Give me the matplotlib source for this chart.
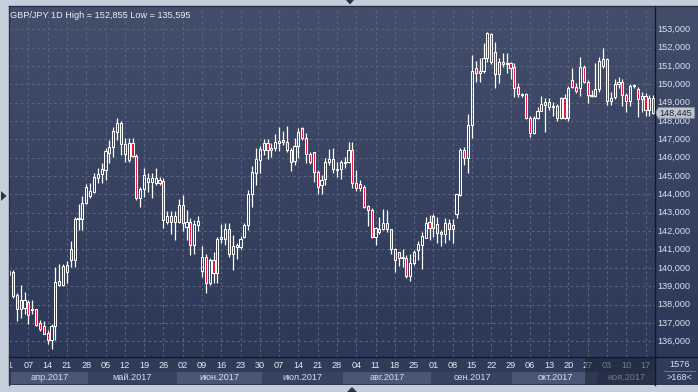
import matplotlib
matplotlib.use('Agg')
import matplotlib.pyplot as plt
import numpy as np
import pandas as pd
from matplotlib.patches import Rectangle, Polygon
from matplotlib.collections import LineCollection
from matplotlib.colors import LinearSegmentedColormap
from matplotlib.lines import Line2D

# ---------------- data ----------------
symbol_title = "GBP/JPY 1D High = 152,855 Low = 135,595"
start_date = "2017-03-31"
month_names = ['мар.2017', 'апр.2017', 'май.2017', 'июн.2017', 'июл.2017',
               'авг.2017', 'сен.2017', 'окт.2017', 'ноя.2017']
price_ticks = list(range(136, 154))
last_price = 148.445
corner_top = "1576"
corner_bottom = ">168<"

opens = [
139.60,139.75,138.51,137.75,137.80,138.15,137.70,137.73,137.00,136.82,
136.45,136.05,136.82,139.27,139.05,140.18,141.00,140.45,142.65,142.65,
143.56,143.90,144.15,144.87,145.09,145.33,146.27,146.56,147.42,147.91,
146.73,145.87,146.78,146.11,143.78,144.27,144.70,144.70,144.65,144.78,
144.73,142.50,142.85,142.51,142.51,143.45,142.20,142.51,141.27,142.33,
139.84,140.60,139.20,140.42,139.73,141.55,141.56,142.11,140.78,141.15,
141.15,141.69,142.33,144.02,145.18,145.87,146.42,146.78,146.42,146.51,
146.78,146.87,146.87,146.42,145.82,146.64,147.60,147.05,146.18,146.29,
145.20,144.51,144.82,145.78,145.91,145.35,145.38,145.69,145.75,146.42,
144.60,144.55,144.38,143.36,143.15,141.69,141.96,142.11,142.42,142.11,
141.00,140.84,140.56,140.51,139.56,140.24,140.96,141.27,141.65,142.51,
142.18,142.38,141.93,141.82,142.47,142.09,142.96,143.96,146.42,146.00,
147.78,150.87,150.60,150.73,151.45,152.75,151.75,150.55,151.22,151.10,
151.15,150.95,149.84,149.42,149.50,148.15,147.33,148.15,148.56,148.87,
149.02,148.75,148.82,148.15,149.24,148.15,150.24,149.84,149.78,150.96,
150.15,149.36,149.38,149.73,151.00,151.36,149.11,149.33,150.00,150.15,
149.42,149.11,149.91,149.73,149.18,149.38,148.60,149.27]

highs = [
139.95,139.87,138.64,139.05,138.69,138.27,138.27,137.78,137.15,137.11,
136.60,136.96,140.05,140.20,140.20,140.37,141.47,142.75,143.50,143.91,
144.56,144.64,145.18,145.42,145.69,146.51,146.96,147.69,148.15,148.02,
147.05,147.05,147.05,146.18,144.42,145.42,145.15,145.15,145.42,144.96,
144.87,143.10,143.09,143.09,143.73,143.96,143.15,142.69,142.60,142.82,
141.20,140.75,140.51,140.87,141.69,142.38,142.45,142.42,141.78,141.33,
141.73,142.42,144.24,145.56,146.54,146.64,147.00,147.00,146.78,147.27,
147.69,147.45,147.73,146.51,147.05,147.60,147.69,147.33,146.33,146.33,
145.33,145.05,145.96,146.45,146.55,145.78,145.87,146.05,146.84,146.87,
145.33,144.78,144.51,143.42,143.24,142.24,142.75,143.20,143.15,142.11,
141.09,140.87,141.05,140.69,140.78,140.96,141.45,141.96,142.78,142.87,
142.96,142.78,142.05,142.73,142.65,142.65,144.05,146.55,146.60,148.36,
151.60,151.27,151.45,152.24,152.855,152.80,152.30,151.42,151.70,151.70,
151.20,151.15,150.05,149.55,149.55,148.25,148.30,148.75,149.36,149.25,
149.25,149.05,148.95,149.30,149.50,149.90,150.87,150.05,151.50,151.05,
150.24,149.70,151.15,151.50,152.00,151.45,149.60,150.27,150.40,150.27,
149.55,150.00,150.00,149.85,149.60,149.55,149.40,149.40]

lows = [
139.50,138.33,137.09,137.29,137.50,136.96,137.47,136.82,136.56,136.38,
135.87,135.595,136.09,139.00,139.00,139.20,140.05,140.05,142.05,142.05,
143.47,143.78,144.09,144.60,144.65,144.78,145.69,146.05,146.96,146.15,
145.78,145.78,146.05,143.69,143.33,143.87,144.15,143.78,144.50,144.50,
142.15,142.40,141.82,141.51,142.42,142.02,141.51,140.69,140.73,142.00,
139.51,138.64,139.05,139.15,139.15,141.33,141.27,140.60,139.87,140.47,
141.00,141.60,142.05,143.29,144.51,145.15,146.15,145.91,146.05,146.38,
146.38,146.69,146.33,145.29,145.60,146.00,146.96,145.69,145.64,144.69,
144.05,144.05,144.51,145.60,145.15,144.96,144.82,145.42,145.69,144.36,
144.20,144.20,143.24,142.29,141.60,141.27,141.87,142.05,141.96,140.78,
139.78,140.11,140.05,139.42,139.29,140.15,140.42,139.96,141.60,141.51,
141.69,141.38,141.20,141.33,141.51,141.36,142.69,143.93,145.60,145.18,
147.05,150.15,150.15,150.60,151.24,151.11,149.80,150.10,150.96,150.60,
150.30,149.30,149.30,149.30,148.10,147.15,147.30,148.10,148.55,147.40,
148.60,148.25,148.00,148.10,148.10,148.00,149.78,149.55,149.36,150.05,
148.96,149.33,149.33,149.60,150.90,148.85,148.85,149.20,149.80,148.80,
148.50,148.80,149.80,148.20,148.50,148.30,148.30,148.40]

closes = [
139.82,138.47,137.75,138.24,138.24,137.42,137.75,136.91,136.69,136.42,
136.05,136.82,139.24,139.09,140.11,139.76,140.45,142.65,142.73,143.56,
144.42,144.18,144.93,145.11,145.36,146.36,146.60,147.47,147.87,146.75,
146.18,146.78,146.11,143.78,144.27,145.05,144.87,144.87,144.87,144.64,
142.60,142.85,142.51,142.82,143.45,142.42,142.51,141.27,142.38,142.55,
140.60,139.20,140.42,139.73,141.56,141.69,142.11,140.78,141.18,141.24,
141.56,142.33,144.02,145.20,145.91,146.45,146.78,146.42,146.51,146.87,
146.91,146.96,146.42,145.78,146.64,147.38,147.05,146.18,145.78,145.20,
144.42,144.78,145.75,145.91,145.38,145.40,145.75,145.78,146.42,144.60,
144.33,144.36,143.33,143.15,141.69,142.15,142.11,142.42,142.11,141.00,
140.45,140.56,140.60,139.56,140.29,140.87,141.29,141.75,142.47,142.18,
142.84,141.91,141.82,142.47,142.09,142.36,144.00,146.42,146.00,147.78,
150.73,150.60,150.73,151.45,152.78,151.20,150.55,151.20,151.12,151.15,
150.90,149.78,149.50,149.50,148.15,147.33,148.15,148.56,148.91,149.02,
148.75,148.82,148.15,149.24,148.15,149.78,149.84,149.65,150.96,150.15,
149.42,149.42,149.73,151.29,151.36,149.11,149.27,150.00,150.15,149.42,
149.11,149.91,149.93,149.18,149.38,148.60,149.24,148.445]

n = len(opens)
assert len(highs) == n and len(lows) == n and len(closes) == n, (len(opens), len(highs), len(lows), len(closes))
dates = pd.bdate_range(start_date, periods=n)

# ---------------- figure ----------------
W, H = 698, 392
fig = plt.figure(figsize=(W / 100, H / 100), dpi=100)
fig.patch.set_facecolor('#c5cfdb')
plt.rcParams['font.family'] = ['Liberation Sans', 'DejaVu Sans']
FS = 6.6

def px_axes(x0, y0, x1, y1):
    return fig.add_axes([x0 / W, 1 - y1 / H, (x1 - x0) / W, (y1 - y0) / H])

bg_cmap = LinearSegmentedColormap.from_list('bg', ['#424e6a', '#2c3857'])
grad = np.linspace(0, 1, 256).reshape(-1, 1)

XL = (-0.15, 167.45)
YL = (135.14, 154.27)

# main chart
ax = px_axes(8.5, 6, 655, 357)
ax.set_xlim(*XL)
ax.set_ylim(*YL)
ax.imshow(grad, cmap=bg_cmap, extent=[0, 1, 0, 1], transform=ax.transAxes,
          aspect='auto', zorder=0)
ax.set_xlim(*XL)
ax.set_ylim(*YL)
for s in ax.spines.values():
    s.set_visible(False)
ax.set_xticks([])
ax.set_yticks([])

grid_kw = dict(color='#58647f', lw=0.8, dashes=(2.5, 2.5), zorder=1)
for p in price_ticks:
    ax.axhline(p, **grid_kw)
fridays = [i for i, d in enumerate(dates) if d.dayofweek == 4]
for i in fridays:
    ax.axvline(i, **grid_kw)

wicks = []
bw = 0.55
for i in range(n):
    o, h, l, c = opens[i], highs[i], lows[i], closes[i]
    top, bot = max(o, c), min(o, c)
    if h > top:
        wicks.append([(i, top), (i, h)])
    if l < bot:
        wicks.append([(i, l), (i, bot)])
    bear = c < o
    hgt = max(top - bot, 0.03)
    ax.add_patch(Rectangle((i - bw / 2, bot), bw, hgt,
                           facecolor='#e8143a' if bear else 'none',
                           edgecolor='white', lw=0.75, zorder=3))
ax.add_collection(LineCollection(wicks, colors='white', linewidths=0.9, zorder=2))

# price axis
axr = px_axes(655, 6, 698, 357)
axr.set_xlim(0, 1)
axr.set_ylim(*YL)
axr.imshow(grad, cmap=bg_cmap, extent=[0, 1, 0, 1], transform=axr.transAxes,
           aspect='auto', zorder=0)
axr.set_xlim(0, 1)
axr.set_ylim(*YL)
for s in axr.spines.values():
    s.set_visible(False)
axr.set_xticks([])
axr.set_yticks([])
for p in price_ticks:
    axr.text(0.055, p, f"{p},000", color='#d6e2f2', fontsize=FS,
             ha='left', va='center', zorder=2)
hh = 0.29
tag = Polygon([(0.0, last_price), (0.08, last_price + hh), (0.92, last_price + hh),
               (0.92, last_price - hh), (0.08, last_price - hh)], closed=True,
              facecolor='#bfc5cf', edgecolor='#8c95a5', lw=0.6, zorder=4)
axr.add_patch(tag)
axr.text(0.1, last_price, f"{last_price:.3f}".replace('.', ','), color='#1c2434',
         fontsize=FS, ha='left', va='center', zorder=5)

# date axis
axd = px_axes(8.5, 357, 655, 385)
axd.set_xlim(*XL)
axd.set_ylim(0, 1)
axd.set_facecolor('#2f3b58')
for s in axd.spines.values():
    s.set_visible(False)
axd.set_xticks([])
axd.set_yticks([])

months = dates.to_period('M')
uniq = list(dict.fromkeys(months))
for k, m in enumerate(uniq):
    idx = [i for i in range(n) if months[i] == m]
    a, b = idx[0] - 0.5, idx[-1] + 0.5
    col = '#4a5673' if k % 2 == 1 else '#36425f'
    axd.add_patch(Rectangle((a, 0.04), b - a, 0.44, facecolor=col, edgecolor='none', zorder=1))
    if len(idx) > 5:
        ca, cb = max(a, XL[0]), min(b, XL[1])
        axd.text((ca + cb) / 2, 0.26, month_names[k], color='#d4deec', fontsize=FS,
                 ha='center', va='center', zorder=2, clip_on=True)
for i in fridays:
    axd.text(i, 0.70, f"{dates[i].day:02d}", color='#e2e9f3', fontsize=FS,
             ha='center', va='center', zorder=2, clip_on=True)
ov_left = 149.3
axd.add_patch(Rectangle((ov_left, 0), XL[1] - ov_left, 1, facecolor='#1a2338',
                        alpha=0.55, edgecolor='none', zorder=5))

# corner
axc = px_axes(655, 357, 698, 385)
axc.set_facecolor('#2f3b58')
axc.set_xlim(0, 1)
axc.set_ylim(0, 1)
for s in axc.spines.values():
    s.set_visible(False)
axc.set_xticks([])
axc.set_yticks([])
axc.text(0.58, 0.74, corner_top, color='#d6e2f2', fontsize=FS, ha='center', va='center')
axc.text(0.58, 0.26, corner_bottom, color='#d6e2f2', fontsize=FS, ha='center', va='center')
axc.plot([0.22, 0.94], [0.5, 0.5], color='#76829a', lw=0.6)

# separators / borders
def fline(x0, y0, x1, y1, color='#121a2a', lw=1.0):
    fig.add_artist(Line2D([x0 / W, x1 / W], [1 - y0 / H, 1 - y1 / H],
                          color=color, lw=lw, transform=fig.transFigure))

fline(655, 6, 655, 385)
fline(8.5, 357, 698, 357)
fline(8.5, 6, 698, 6, color='#27304a')
fline(8.5, 6, 8.5, 385, color='#27304a')

# little UI triangles
def ftri(pts, color='#2a3244'):
    fig.add_artist(Polygon([(x / W, 1 - y / H) for x, y in pts], closed=True,
                           facecolor=color, edgecolor='none', transform=fig.transFigure))

ftri([(346, 0), (354, 0), (350, 4.5)])
ftri([(1, 191), (1, 201), (6.5, 196)])
ftri([(347, 392), (357, 392), (352, 387)])

# title
fig.text(10 / W, 1 - 15.5 / H, symbol_title, color='#e8eef8', fontsize=FS,
         ha='left', va='center')

fig.savefig('out.png', dpi=100, facecolor=fig.get_facecolor())
